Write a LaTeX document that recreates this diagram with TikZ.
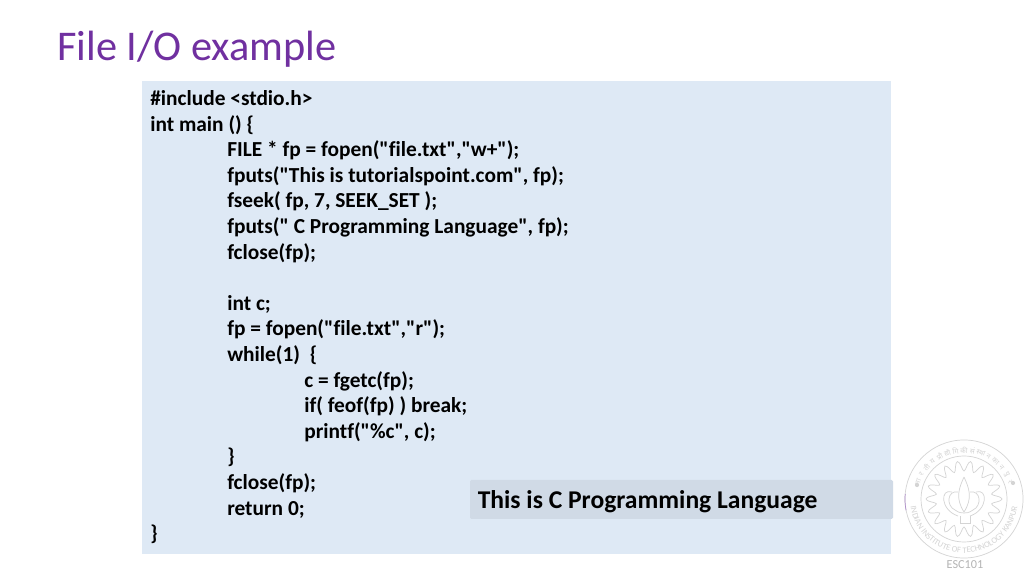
\documentclass[tikz,border=0pt]{standalone}
\usepackage{fontspec}
\newfontfamily\slidefont[Ligatures=NoCommon]{Carlito}
\newfontfamily\hindifont[Script=Devanagari]{Noto Sans}
\usetikzlibrary{positioning, decorations.text}
\definecolor{titlepurple}{HTML}{7030A0}
\definecolor{panelblue}{HTML}{DEE9F5}
\definecolor{outputgrey}{HTML}{D0DAE6}
\definecolor{logogrey}{HTML}{D4D4D4}
\tikzset{
 codeline/.style={anchor=base west, inner sep=0pt, font=\slidefont\fontsize{15.2}{18}\selectfont\bfseries, text=black},
 logoline/.style={draw=logogrey, line width=0.5pt},
}
\begin{document}
\begin{tikzpicture}[x=0.025cm,y=0.025cm]
\useasboundingbox (0,0) rectangle (1024,576);
\fill [white] (0,0) rectangle (1024,576);

\node [anchor=base west, inner sep=0pt, text=titlepurple, font=\slidefont\fontsize{30.1}{36}\selectfont] (title) at (57,515) {File I/O example};

\fill [panelblue] (142,22) rectangle (891,495);

% program text
\node [codeline] (line1) at (150,470.5) {\#include <stdio.h>};
\node [codeline] (line2) at (150,444.9) {int main () \{};
\node [codeline] (line3) at (227,419.3) {FILE * fp = fopen("file.txt","w+");};
\node [codeline] (line4) at (227,393.7) {fputs("This is tutorialspoint.com", fp);};
\node [codeline] (line5) at (227,368.1) {fseek( fp, 7, SEEK\_SET );};
\node [codeline] (line6) at (227,342.5) {fputs(" C Programming Language", fp);};
\node [codeline] (line7) at (227,316.9) {fclose(fp);};
\node [codeline] (line9) at (227,265.7) {int c;};
\node [codeline] (line10) at (227,240.1) {fp = fopen("file.txt","r");};
\node [codeline] (line11) at (227,214.5) {while(1)\ \ \{};
\node [codeline] (line12) at (304,188.9) {c = fgetc(fp);};
\node [codeline] (line13) at (304,163.3) {if( feof(fp) ) break;};
\node [codeline] (line14) at (304,137.7) {printf("\%c", c);};
\node [codeline] (line15) at (227,112.1) {\}};
\node [codeline] (line16) at (227,86.5) {fclose(fp);};
\node [codeline] (line17) at (227,60.9) {return 0;};
\node [codeline] (line18) at (150,35.3) {\}};

% output box
\fill [outputgrey, rounded corners=1pt] (470,57) rectangle (893,96);
\node [codeline, font=\slidefont\fontsize{18.2}{22}\selectfont\bfseries] (output) at (477.5,67.5) {This is C Programming Language};

% logo
\draw [logoline] (964,77) circle (1.475cm);
\draw [logoline] (964,77) circle (1.075cm);
\draw [draw=titlepurple!55, line width=0.5pt] (905.2,82) arc (175:191:1.475cm);
\draw [logoline] plot [smooth, domain=0:360, samples=145] ({964+(33+5*cos(18*\x))*cos(\x)},{77+(33+5*cos(18*\x))*sin(\x)});
\path [postaction={decorate, decoration={text along path, text align=center, text={|\slidefont\fontsize{6}{7}\selectfont\color{logogrey}|INDIAN INSTITUTE OF TECHNOLOGY KANPUR}}}] (964,77) ++(178:1.35cm) arc (178:362:1.35cm);
\foreach \ak [count=\i] in {भा,र,ती,य,प्रौ,द्यो,गि,की,सं,स्था,न,का,न,पु,र}
 \node [text=logogrey, inner sep=0pt, rotate={160-(\i-1)*10-90}, font=\hindifont\fontsize{5}{6}\selectfont] (hindi\i) at ({964+49*cos(160-(\i-1)*10)},{77+49*sin(160-(\i-1)*10)}) {\ak};
\fill [logogrey] (917,91) circle (1.5pt);
\fill [logogrey] (1013,93) circle (1.5pt);
% lotus
\draw [logoline] (964,99) .. controls (959,88) and (955,78) .. (964,64) .. controls (973,78) and (969,88) .. (964,99);
\draw [logoline] (958,84) .. controls (947,86) and (946,70) .. (955,66) .. controls (959,63) and (962,63) .. (964,63) .. controls (966,63) and (969,63) .. (973,66) .. controls (982,70) and (981,86) .. (970,84);
\draw [logoline] (952,84) .. controls (940,88) and (940,66) .. (958,60);
\draw [logoline] (976,84) .. controls (988,88) and (988,66) .. (970,60);
\draw [logoline] (960,60) -- (960,53) -- (970,53) -- (970,60);

\node [inner sep=0pt, text=logogrey!85!black, font=\slidefont\fontsize{8.7}{10}\selectfont] (esc) at (965,11) {ESC101};
\end{tikzpicture}
\end{document}
